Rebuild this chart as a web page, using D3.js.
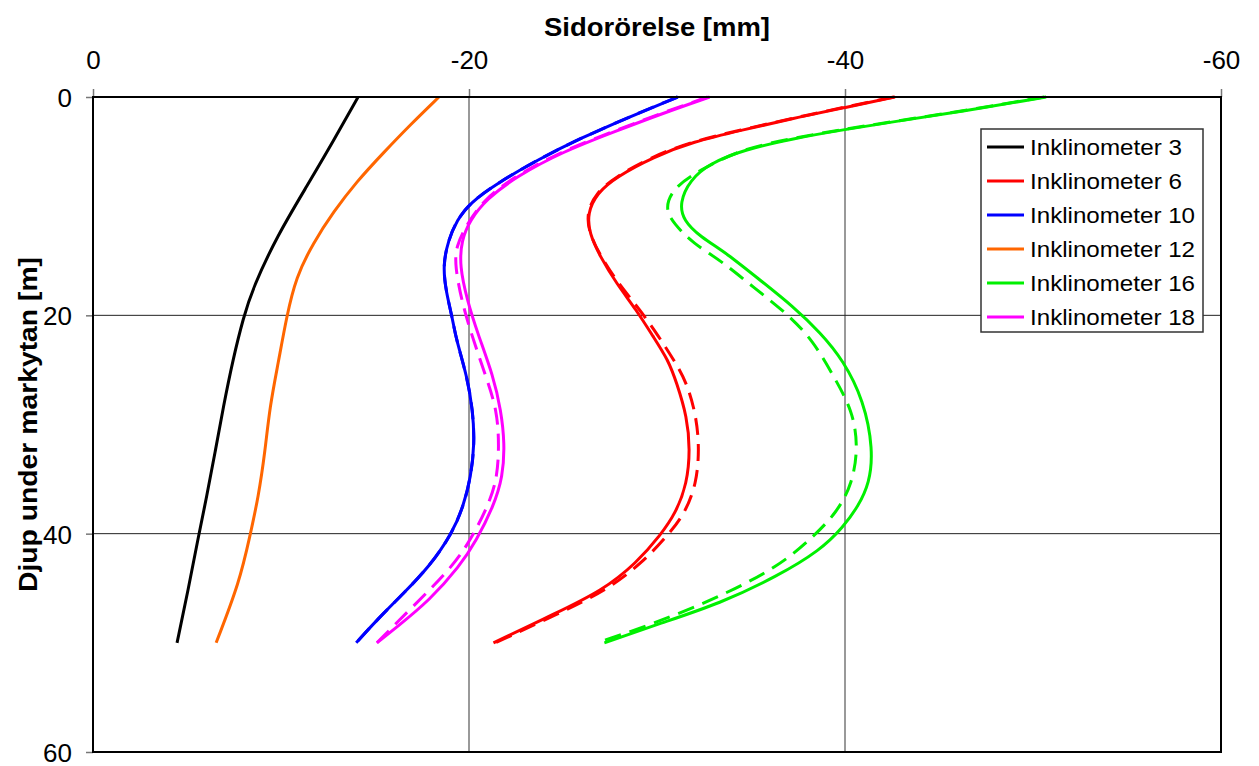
<!DOCTYPE html>
<html>
<head>
<meta charset="utf-8">
<script src="https://cdn.jsdelivr.net/npm/d3@7"></script>
<style>
    body { margin: 0; background: #fff; }
    text { font-family: "Liberation Sans", Arial, sans-serif; }
</style>
</head>
<body>
<div id="chart"></div>
<script>
// Inklinometer readings: depth [m] and lateral displacement [mm]
const depth3 = [0, 4.0, 8.1, 12.7, 17.5, 20.2, 24.0, 28.4, 32.5, 36.6, 40.3, 45.1, 50];
const disp3 = [-14.1, -12.8, -11.4, -9.8, -8.5, -8.0, -7.45, -6.93, -6.5, -6.05, -5.6, -5.07, -4.47];

const depth12 = [0, 2.5, 5.1, 7.8, 10.5, 13.4, 16.5, 20.1, 24.3, 28.4, 32.5, 36.6, 40.2, 44.4, 50];
const disp12 = [-18.4, -16.9, -15.45, -14.0, -12.8, -11.7, -10.8, -10.3, -9.86, -9.4, -9.15, -8.8, -8.35, -7.8, -6.55];

const depth10 = [0, 1.8, 3.8, 5.8, 7.9, 9.7, 11.3, 13.1, 15.5, 18.0, 20.1, 22.1, 25.6, 28.7, 31.7, 34.8, 37.5, 40.0, 43.0, 45.5, 47.9, 50];
const disp10 = [-31.1, -28.56, -25.9, -23.6, -21.5, -20.05, -19.35, -18.9, -18.6, -18.8, -19.1, -19.3, -19.9, -20.2, -20.3, -20.1, -19.7, -19.1, -17.9, -16.5, -15.1, -14.0];

const depth18 = [0, 1.5, 3.2, 5.0, 7.3, 9.4, 11.3, 13.1, 15.5, 18.6, 21.6, 25.6, 28.7, 31.7, 34.8, 37.5, 40.6, 43.0, 46.1, 48.5, 50];
const disp18 = [-32.8, -30.3, -27.7, -25.0, -22.5, -20.9, -20.05, -19.6, -19.5, -19.9, -20.45, -21.3, -21.7, -21.9, -21.8, -21.3, -20.4, -19.5, -17.9, -16.2, -15.1];
const depth18b = [0, 1.5, 3.2, 5.0, 7.3, 9.4, 11.6, 13.7, 15.5, 18.6, 21.6, 25.6, 28.7, 32.0, 34.8, 37.2, 41.2, 43.6, 46.7, 50];
const disp18b = [-32.7, -30.2, -27.6, -24.9, -22.4, -20.8, -19.9, -19.3, -19.26, -19.6, -20.1, -20.9, -21.5, -21.6, -21.5, -21.1, -19.9, -18.8, -17.0, -15.1];

const depth6 = [0, 1.0, 1.95, 3.0, 4.1, 5.5, 7.3, 8.8, 10.65, 12.5, 14.6, 17.1, 19.5, 21.96, 24.1, 26.2, 29.3, 32.3, 35.4, 38.1, 40.1, 42.7, 45.2, 47.3, 50];
const disp6 = [-42.66, -39.9, -37.25, -34.6, -31.9, -29.8, -27.85, -26.8, -26.3, -26.4, -26.97, -27.85, -28.9, -29.8, -30.6, -31.05, -31.6, -31.76, -31.6, -31.0, -30.2, -28.9, -27.1, -24.6, -21.3];
const disp6b = [-42.6, -39.8, -37.2, -34.5, -31.8, -29.7, -27.8, -26.75, -26.25, -26.4, -27.0, -27.95, -29.1, -30.1, -30.9, -31.6, -32.1, -32.25, -32.1, -31.5, -30.6, -29.2, -27.3, -24.8, -21.4];

const depth16 = [0, 1.35, 2.26, 3.0, 3.8, 4.85, 6.1, 7.6, 9.7, 11.3, 12.8, 14.3, 16.8, 19.2, 21.6, 24.1, 27.8, 32.3, 35.4, 37.5, 39.4, 41.5, 43.9, 46.4, 48.2, 50];
const disp16 = [-50.7, -46.1, -42.6, -39.9, -37.25, -34.6, -32.8, -31.75, -31.2, -31.4, -32.3, -33.7, -35.5, -37.25, -38.7, -39.9, -41.0, -41.5, -41.3, -40.7, -39.9, -38.7, -36.4, -33.35, -30.2, -27.2];
const depth16b = [0, 1.35, 2.26, 3.0, 3.8, 4.85, 6.5, 8.2, 10.2, 11.6, 13.4, 15.1, 17.4, 19.8, 22.3, 25.6, 28.7, 32.0, 35.4, 38.1, 40.3, 43.0, 45.9, 48.4, 50];
const disp16b = [-50.6, -46.0, -42.5, -39.8, -37.1, -34.4, -32.5, -30.9, -30.4, -30.9, -31.9, -33.5, -35.1, -36.9, -38.3, -39.4, -40.4, -40.7, -40.4, -39.55, -38.3, -36.5, -33.2, -29.6, -26.8];

const xTicks = [0, -20, -40, -60];
const yTicks = [0, 20, 40, 60];
const legendNames = ["Inklinometer 3", "Inklinometer 6", "Inklinometer 10", "Inklinometer 12", "Inklinometer 16", "Inklinometer 18"];
const legendColors = ["#000000", "#ff0000", "#0000ff", "#ff6600", "#00f000", "#ff00ff"];

const zip = (d, v) => d.map((dd, i) => ({d: dd, v: v[i]}));

// solid = latest reading, dashed = earlier reading
const series = [
    {pts: zip(depth3, disp3), color: "#000000", dash: null},
    {pts: zip(depth12, disp12), color: "#ff6600", dash: null},
    {pts: zip(depth10, disp10), color: "#0000ff", dash: "17,9"},
    {pts: zip(depth10, disp10), color: "#0000ff", dash: null},
    {pts: zip(depth18b, disp18b), color: "#ff00ff", dash: "17,9"},
    {pts: zip(depth18, disp18), color: "#ff00ff", dash: null},
    {pts: zip(depth6, disp6b), color: "#ff0000", dash: "17,9"},
    {pts: zip(depth6, disp6), color: "#ff0000", dash: null},
    {pts: zip(depth16b, disp16b), color: "#00f000", dash: "17,9"},
    {pts: zip(depth16, disp16), color: "#00f000", dash: null}
];

const width = 1259, height = 766;
const margin = {left: 93, right: 38, top: 97, bottom: 14};

const svg = d3.select("#chart").append("svg")
    .attr("width", width)
    .attr("height", height);

const x = d3.scaleLinear().domain([0, -60]).range([margin.left, width - margin.right]);
const y = d3.scaleLinear().domain([0, 60]).range([margin.top, height - margin.bottom]);

// gridlines
svg.append("g").selectAll("line")
    .data([-20, -40])
    .enter().append("line")
    .attr("x1", d => x(d)).attr("x2", d => x(d))
    .attr("y1", y(0)).attr("y2", y(60))
    .attr("stroke", "#777").attr("stroke-width", 1.5);

svg.append("g").selectAll("line")
    .data([20, 40])
    .enter().append("line")
    .attr("x1", x(0)).attr("x2", x(-60))
    .attr("y1", d => y(d)).attr("y2", d => y(d))
    .attr("stroke", "#222").attr("stroke-width", 1);

// axes
const xAxis = svg.append("g")
    .attr("transform", `translate(0,${y(0)})`)
    .call(d3.axisTop(x).tickValues(xTicks).tickSize(8).tickPadding(20).tickFormat(d3.format("d")));

const yAxis = svg.append("g")
    .attr("transform", `translate(${x(0)},0)`)
    .call(d3.axisLeft(y).tickValues(yTicks).tickSize(7).tickPadding(14).tickFormat(d3.format("d")));

[xAxis, yAxis].forEach(a => {
    a.select(".domain").remove();
    a.selectAll(".tick line").attr("stroke", "#777").attr("stroke-width", 1.5);
    a.selectAll(".tick text")
        .attr("font-family", "Liberation Sans, Arial, sans-serif")
        .attr("font-size", 26)
        .attr("fill", "#000");
});
xAxis.selectAll(".tick text").text(d => String(d));
yAxis.selectAll(".tick text").attr("dy", "0.36em");

// curves
const line = d3.line()
    .x(p => x(p.v))
    .y(p => y(p.d))
    .curve(d3.curveBasis);

svg.append("g").selectAll("path")
    .data(series)
    .enter().append("path")
    .attr("d", s => line(s.pts))
    .attr("fill", "none")
    .attr("stroke", s => s.color)
    .attr("stroke-width", 3)
    .attr("stroke-dasharray", s => s.dash);

// plot frame
svg.append("rect")
    .attr("x", x(0)).attr("y", y(0))
    .attr("width", x(-60) - x(0)).attr("height", y(60) - y(0))
    .attr("fill", "none").attr("stroke", "#000").attr("stroke-width", 2);

// titles
svg.append("text")
    .attr("x", 657).attr("y", 36)
    .attr("text-anchor", "middle")
    .attr("font-size", 26).attr("font-weight", "bold")
    .attr("textLength", 226).attr("lengthAdjust", "spacingAndGlyphs")
    .text("Sidorörelse [mm]");

svg.append("text")
    .attr("transform", `translate(37,${(y(0) + y(60)) / 2}) rotate(-90)`)
    .attr("text-anchor", "middle")
    .attr("font-size", 26).attr("font-weight", "bold")
    .attr("textLength", 335).attr("lengthAdjust", "spacingAndGlyphs")
    .text("Djup under markytan [m]");

// legend
const legend = svg.append("g").attr("transform", "translate(981,129)");

legend.append("rect")
    .attr("width", 222).attr("height", 203)
    .attr("fill", "#fff").attr("stroke", "#333").attr("stroke-width", 1.5);

const item = legend.selectAll(".item")
    .data(legendNames)
    .enter().append("g")
    .attr("class", "item")
    .attr("transform", (d, i) => `translate(0,${18 + i * 34})`);

item.append("line")
    .attr("x1", 6).attr("x2", 43)
    .attr("stroke", (d, i) => legendColors[i])
    .attr("stroke-width", 3);

item.append("text")
    .attr("x", 49).attr("dy", "0.36em")
    .attr("font-size", 22)
    .attr("textLength", d => d.length === 14 ? 152 : 165)
    .attr("lengthAdjust", "spacingAndGlyphs")
    .text(d => d);
</script>
</body>
</html>
